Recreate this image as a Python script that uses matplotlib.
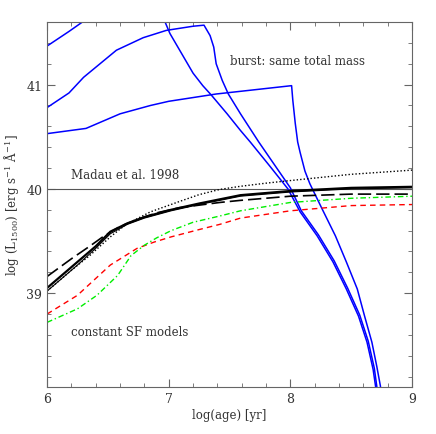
import matplotlib
matplotlib.use('Agg')
import matplotlib.pyplot as plt
from matplotlib.ticker import MultipleLocator

plt.rcParams['font.family'] = ['DejaVu Serif']
plt.rcParams['mathtext.fontset'] = 'dejavuserif'

## burst models (same total mass)
b1_x = [6.0, 6.32, 6.6, 6.85, 7.0, 7.39, 7.7, 8.01, 8.02, 8.04, 8.06, 8.08, 8.12, 8.16, 8.26, 8.37, 8.46, 8.55, 8.61, 8.67, 8.71, 8.74, 8.76]
b1_y = [40.53, 40.58, 40.72, 40.80, 40.84, 40.91, 40.95, 40.99, 40.85, 40.63, 40.45, 40.35, 40.17, 40.05, 39.81, 39.55, 39.30, 39.04, 38.78, 38.53, 38.30, 38.11, 37.9]

b2_x = [6.0, 6.18, 6.30, 6.57, 6.79, 6.98, 7.20, 7.29, 7.34, 7.37, 7.39, 7.44, 7.49, 7.59, 7.74, 7.87, 8.0, 8.09, 8.23, 8.36, 8.47, 8.57, 8.64, 8.69, 8.71, 8.73]
b2_y = [40.78, 40.92, 41.07, 41.33, 41.45, 41.52, 41.56, 41.57, 41.47, 41.36, 41.20, 41.04, 40.91, 40.72, 40.45, 40.23, 40.01, 39.79, 39.56, 39.31, 39.05, 38.79, 38.54, 38.28, 38.11, 37.9]

b3_x = [6.0, 6.18, 6.29, 6.5, 6.8, 6.9, 6.93, 6.97, 7.01, 7.12, 7.20, 7.28, 7.35, 7.48, 7.59, 7.67, 7.83, 7.98, 8.08, 8.22, 8.35, 8.46, 8.56, 8.63, 8.68, 8.70, 8.72]
b3_y = [41.37, 41.51, 41.60, 41.75, 41.83, 41.85, 41.75, 41.60, 41.49, 41.27, 41.11, 40.99, 40.90, 40.72, 40.56, 40.45, 40.22, 40.0, 39.78, 39.55, 39.30, 39.04, 38.78, 38.53, 38.27, 38.11, 37.9]

## constant SF models
solid_x = [6.0, 6.25, 6.4, 6.52, 6.66, 6.80, 7.02, 7.25, 7.59, 8.0, 8.5, 9.0]
solid_y = [39.05, 39.30, 39.45, 39.59, 39.67, 39.73, 39.80, 39.86, 39.94, 39.98, 40.01, 40.02]
solid2_y = [39.02, 39.27, 39.43, 39.57, 39.66, 39.72, 39.79, 39.85, 39.93, 39.97, 40.0, 40.01]

dash_x = [6.0, 6.2, 6.35, 6.47, 6.6, 6.75, 6.9, 7.09, 7.42, 7.59, 8.0, 8.5, 9.0]
dash_y = [39.16, 39.33, 39.45, 39.55, 39.64, 39.71, 39.77, 39.82, 39.87, 39.89, 39.93, 39.95, 39.95]

dot_x = [6.0, 6.2, 6.35, 6.52, 6.65, 6.85, 7.09, 7.25, 7.42, 7.59, 7.8, 8.0, 8.5, 9.0]
dot_y = [39.02, 39.22, 39.36, 39.54, 39.66, 39.78, 39.88, 39.945, 39.995, 40.025, 40.055, 40.08, 40.14, 40.18]

red_x = [6.0, 6.25, 6.52, 6.74, 6.88, 7.02, 7.25, 7.42, 7.59, 8.0, 8.5, 9.0]
red_y = [38.80, 38.98, 39.27, 39.43, 39.49, 39.54, 39.61, 39.66, 39.72, 39.79, 39.84, 39.85]

green_x = [6.0, 6.25, 6.41, 6.58, 6.69, 6.80, 6.90, 7.02, 7.2, 7.42, 7.59, 8.0, 8.5, 9.0]
green_y = [38.72, 38.85, 38.98, 39.17, 39.36, 39.46, 39.53, 39.60, 39.68, 39.74, 39.79, 39.87, 39.91, 39.93]

madau = 40.0

fig = plt.figure(figsize=(4.36, 4.35), dpi=100)
ax = fig.add_axes([0.108, 0.108, 0.837, 0.839])

ax.axhline(madau, color='#555555', lw=0.8)

for xs, ys in [(b1_x, b1_y), (b2_x, b2_y), (b3_x, b3_y)]:
    ax.plot(xs, ys, color='#0000ff', lw=1.1)

ax.plot(red_x, red_y, color='#ff0000', lw=1.0, dashes=(4, 3))
ax.plot(green_x, green_y, color='#00ee00', lw=1.0, dashes=(4, 2, 1, 2))
ax.plot(dot_x, dot_y, color='black', lw=1.0, dashes=(1, 1.5))
ax.plot(dash_x, dash_y, color='black', lw=1.2, dashes=(8, 3))
ax.plot(solid_x, solid2_y, color='black', lw=0.8)
ax.plot(solid_x, solid_y, color='black', lw=1.6)

ax.text(6.2, 40.14, 'Madau et al. 1998', fontsize=8.5, color='#333333', va='center')
ax.text(7.5, 41.23, 'burst: same total mass', fontsize=8.5, color='#333333', va='center')
ax.text(6.2, 38.63, 'constant SF models', fontsize=8.5, color='#333333', va='center')

ax.set_xlim(6, 9)
ax.set_ylim(38.1, 41.6)
ax.xaxis.set_major_locator(MultipleLocator(1))
ax.xaxis.set_minor_locator(MultipleLocator(0.2))
ax.yaxis.set_major_locator(MultipleLocator(1))
ax.yaxis.set_minor_locator(MultipleLocator(0.2))
ax.tick_params(which='both', direction='in', top=True, right=True, colors='#666666',
               labelcolor='#333333', labelsize=9)
ax.tick_params(which='major', length=6)
ax.tick_params(which='minor', length=3)
for sp in ax.spines.values():
    sp.set_color('#666666')

ax.set_xlabel('log(age) [yr]', fontsize=8.5, color='#333333', labelpad=2)
ax.set_ylabel(r'log (L$_{1500}$) [erg s$^{-1}$ $\mathrm{\AA}^{-1}$]', fontsize=8.5, color='#333333', labelpad=4)

fig.savefig('out.png', dpi=100)
